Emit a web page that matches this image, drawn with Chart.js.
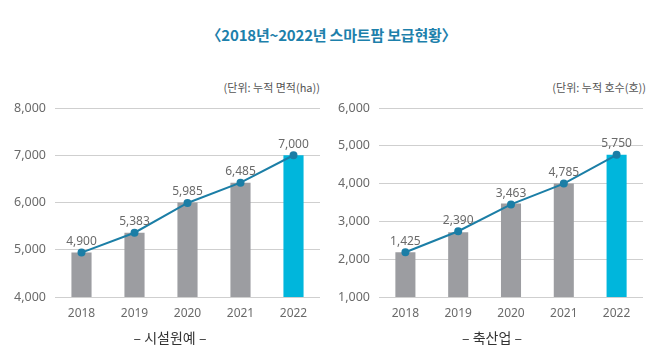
<!DOCTYPE html>
<html>
<head>
<meta charset="utf-8">
<script src="https://cdn.jsdelivr.net/npm/chart.js@4"></script>
<style>
  body { margin: 0; background: #fff; width: 663px; height: 363px; position: relative; overflow: hidden;
         font-family: "Noto Sans CJK KR", "Noto Sans", sans-serif; }
  .title { position: absolute; left: 0; width: 663px; top: 24px; text-align: center;
           font-size: 15px; font-weight: bold; color: #1d80ab; letter-spacing: -0.2px; }
  .unit { position: absolute; top: 79px; font-size: 11px; color: #555; text-align: right; }
  .sub { position: absolute; top: 327px; font-size: 14px; color: #333; text-align: center; width: 120px; }
  .box { position: absolute; top: 60px; height: 303px; }
</style>
</head>
<body>
<div class="title">〈2018년~2022년 스마트팜 보급현황〉</div>

<div class="unit" style="left:200px; width:120px;">(단위: 누적 면적(ha))</div>
<div class="unit" style="left:520px; width:126px;">(단위: 누적 호수(호))</div>

<div class="box" style="left:0; width:331px;"><canvas id="leftChart"></canvas></div>
<div class="box" style="left:324px; width:330px;"><canvas id="rightChart"></canvas></div>

<div class="sub" style="left:110px;">– 시설원예 –</div>
<div class="sub" style="left:432px;">– 축산업 –</div>

<script>
const years = ['2018', '2019', '2020', '2021', '2022'];

// 시설원예 (누적 면적 ha)
const farmBars = [4940, 5360, 6000, 6420, 7000];
const farmLine = [4940, 5360, 5990, 6420, 7000];
const farmLabels = ['4,900', '5,383', '5,985', '6,485', '7,000'];
const farmTicks = [4000, 5000, 6000, 7000, 8000];

// 축산업 (누적 호수)
const livestockBars = [2185, 2715, 3476, 4000, 4760];
const livestockLine = [2185, 2740, 3450, 4000, 4760];
const livestockLabels = ['1,425', '2,390', '3,463', '4,785', '5,750'];
const livestockTicks = [1000, 2000, 3000, 4000, 5000, 6000];

const grayBar = '#9c9da1';
const lastBar = '#00b6dc';
const lineColor = '#1b7ea6';

// 점 위에 값 표시
const pointLabelPlugin = {
    id: 'pointLabels',
    afterDatasetsDraw(chart, args, opts) {
        const ctx = chart.ctx;
        const meta = chart.getDatasetMeta(1);
        ctx.save();
        ctx.font = '12px "Noto Sans", sans-serif';
        ctx.fillStyle = '#6a6a6a';
        ctx.textAlign = 'center';
        ctx.textBaseline = 'middle';
        meta.data.forEach((pt, i) => {
            ctx.fillText(opts.texts[i], pt.x, pt.y - 11);
        });
        ctx.restore();
    }
};

function makeChart(id, bars, line, texts, ticks, yWidth, rightPad) {
    const colors = bars.map((v, i) => i === bars.length - 1 ? lastBar : grayBar);
    new Chart(document.getElementById(id), {
        type: 'bar',
        data: {
            labels: years,
            datasets: [{
                type: 'bar',
                data: bars,
                backgroundColor: colors,
                categoryPercentage: 1,
                barPercentage: 0.38,
                order: 2
            }, {
                type: 'line',
                data: line,
                borderColor: lineColor,
                backgroundColor: lineColor,
                borderWidth: 2,
                pointRadius: 3,
                pointHoverRadius: 3,
                tension: 0,
                order: 1
            }]
        },
        options: {
            responsive: true,
            maintainAspectRatio: false,
            animation: false,
            layout: { padding: { top: 48, right: rightPad, left: 0, bottom: 0 } },
            plugins: {
                legend: { display: false },
                tooltip: { enabled: false },
                pointLabels: { texts: texts }
            },
            scales: {
                x: {
                    grid: { display: false, drawTicks: false },
                    border: { display: false },
                    ticks: { color: '#6a6a6a', padding: 9, font: { size: 12, family: '"Noto Sans", sans-serif' } },
                    afterFit: s => { s.height = 66; }
                },
                y: {
                    min: ticks[0],
                    max: ticks[ticks.length - 1],
                    afterBuildTicks: s => { s.ticks = ticks.map(v => ({ value: v })); },
                    grid: { color: '#cfcfcf', drawTicks: false },
                    border: { display: false },
                    ticks: {
                        color: '#6a6a6a',
                        padding: 9,
                        font: { size: 12.5, family: '"Noto Sans", sans-serif' },
                        callback: v => v.toLocaleString('en-US')
                    },
                    afterFit: s => { s.width = yWidth; }
                }
            }
        },
        plugins: [pointLabelPlugin]
    });
}

makeChart('leftChart', farmBars, farmLine, farmLabels, farmTicks, 55, 11);
makeChart('rightChart', livestockBars, livestockLine, livestockLabels, livestockTicks, 55, 11);
</script>
</body>
</html>
